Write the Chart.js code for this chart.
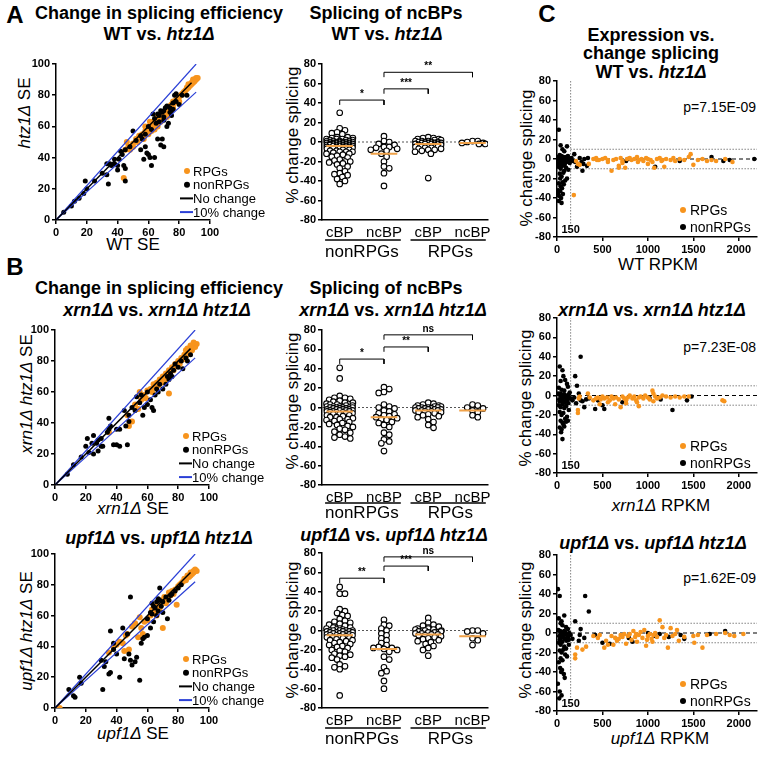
<!DOCTYPE html>
<html>
<head>
<meta charset="utf-8">
<script src="https://cdn.jsdelivr.net/npm/chart.js@4"></script>
<style>
  body { margin: 0; width: 766px; height: 759px; position: relative; background: #fff; overflow: hidden;
         font-family: "Liberation Sans", Arial, sans-serif; color: #000; }
  canvas { position: absolute; }
  .t { position: absolute; white-space: nowrap; transform: translate(-50%, -50%); line-height: 1; }
  .ttl { font-weight: bold; font-size: 18px; }
  .ax { font-size: 17px; }
  .yax { transform: translate(-50%, -50%) rotate(-90deg); }
  .let { font-weight: bold; font-size: 24px; }
  .pv { font-size: 14px; transform: translate(-100%, -50%); }
</style>
</head>
<body>
<!-- row A -->
<div class="t let" style="left:15px;top:15px">A</div>
<div class="t ttl" style="left:159px;top:13px">Change in splicing efficiency</div>
<div class="t ttl" style="left:159px;top:34px">WT vs. <i>htz1Δ</i></div>
<div class="t ax yax" style="left:24px;top:113px"><i>htz1Δ</i> SE</div>
<div class="t ax" style="left:133px;top:244px">WT SE</div>
<div class="t ttl" style="left:386px;top:13px">Splicing of ncBPs</div>
<div class="t ttl" style="left:387px;top:34px">WT vs. <i>htz1Δ</i></div>
<div class="t ax yax" style="left:292px;top:135px">% change splicing</div>
<div class="t let" style="left:547px;top:14px">C</div>
<div class="t ttl" style="left:651px;top:35px">Expression vs.</div>
<div class="t ttl" style="left:651px;top:53px">change splicing</div>
<div class="t ttl" style="left:651px;top:72px">WT vs. <i>htz1Δ</i></div>
<div class="t ax yax" style="left:526px;top:158px">% change splicing</div>
<div class="t ax" style="left:658px;top:264px">WT RPKM</div>
<div class="t pv" style="left:756px;top:107px">p=7.15E-09</div>
<!-- row B -->
<div class="t let" style="left:15px;top:267px">B</div>
<div class="t ttl" style="left:159px;top:288px">Change in splicing efficiency</div>
<div class="t ttl" style="left:157px;top:310px"><i>xrn1Δ</i> vs. <i>xrn1Δ htz1Δ</i></div>
<div class="t ax yax" style="left:26px;top:394px"><i>xrn1Δ htz1Δ</i> SE</div>
<div class="t ax" style="left:133px;top:508px"><i>xrn1Δ</i> SE</div>
<div class="t ttl" style="left:386px;top:288px">Splicing of ncBPs</div>
<div class="t ttl" style="left:393px;top:310px"><i>xrn1Δ</i> vs. <i>xrn1Δ htz1Δ</i></div>
<div class="t ax yax" style="left:292px;top:401px">% change splicing</div>
<div class="t ttl" style="left:652px;top:310px"><i>xrn1Δ</i> vs. <i>xrn1Δ htz1Δ</i></div>
<div class="t ax yax" style="left:525px;top:398px">% change splicing</div>
<div class="t ax" style="left:661px;top:505px"><i>xrn1Δ</i> RPKM</div>
<div class="t pv" style="left:756px;top:347px">p=7.23E-08</div>
<!-- row C -->
<div class="t ttl" style="left:159px;top:538px"><i>upf1Δ</i> vs. <i>upf1Δ htz1Δ</i></div>
<div class="t ax yax" style="left:26px;top:631px"><i>upf1Δ htz1Δ</i> SE</div>
<div class="t ax" style="left:133px;top:733px"><i>upf1Δ</i> SE</div>
<div class="t ttl" style="left:394px;top:535px"><i>upf1Δ</i> vs. <i>upf1Δ htz1Δ</i></div>
<div class="t ax yax" style="left:292px;top:630px">% change splicing</div>
<div class="t ttl" style="left:653px;top:543px"><i>upf1Δ</i> vs. <i>upf1Δ htz1Δ</i></div>
<div class="t ax yax" style="left:525px;top:630px">% change splicing</div>
<div class="t ax" style="left:660px;top:738px"><i>upf1Δ</i> RPKM</div>
<div class="t pv" style="left:756px;top:578px">p=1.62E-09</div>

<script>
// ---- data: SE scatter (x = control SE, y = htz1 SE) ----
const seRpgWT = [[44,27],[45,45],[47,47],[48,45],[50,49],[52,52],[53,50],[55,53],[56,55],[57,52],[58,57],[59,56],[60,59],[61,58],[62,62],[63,60],[63,63],[64,61],[65,64],[66,62],[66,66],[67,65],[68,63],[68,68],[69,66],[70,68],[71,70],[72,69],[72,72],[73,71],[74,73],[74,70],[75,74],[76,72],[76,76],[77,75],[78,77],[79,78],[80,79],[80,76],[81,80],[82,81],[83,82],[84,83],[85,84],[85,85],[86,85],[87,86],[88,87],[88,88],[89,88],[90,89],[90,90],[91,90],[91,91],[92,91],[60,55],[62,57],[64,58],[66,60],[54,54],[50,47],[47,46],[70,65],[72,66],[46,50],[58,60],[61,63],[86,87],[89,90]];
const seNonWT = [[10,9],[18,17],[19,25],[33,36],[33,29],[34,23],[36,35],[38,36],[40,32],[40,35],[41,39],[42,44],[43,42],[44,35],[45,25],[45,33],[45,45],[50,57],[55,45],[56,52],[57,39],[58,47],[59,43],[60,42],[61,40],[62,35],[63,68],[64,40],[66,52],[68,48],[69,52],[70,47],[70,64],[72,60],[73,62],[75,67],[76,71],[78,81],[80,74],[85,80],[65,62],[67,67],[68,70],[70,70],[72,73],[74,72],[62,58],[64,65],[66,68],[60,60],[58,55],[55,54],[52,51],[48,47],[70,66],[71,72],[74,69],[76,75],[77,80],[20,20],[25,25],[30,30],[5,5],[15,14],[12,12],[35,36],[38,39],[78,76],[82,80],[75,70],[69,69],[67,63]];
const seRpgXrn = [[35,34],[47,45],[48,38],[50,41],[52,52],[54,49],[55,60],[56,55],[57,57],[58,58],[59,56],[60,61],[62,62],[63,60],[64,65],[65,63],[66,66],[67,64],[68,68],[69,66],[70,70],[71,67],[72,72],[73,70],[74,59],[74,74],[75,73],[76,76],[77,74],[78,78],[79,77],[80,80],[81,78],[82,82],[83,81],[84,84],[85,83],[86,86],[87,85],[88,88],[89,87],[90,90],[91,89],[92,91],[85,87],[88,90],[86,88],[90,92]];
const seNonXrn = [[8,7],[12,13],[17,18],[21,30],[22,21],[25,32],[28,29],[27,27],[30,30],[28,22],[31,25],[35,43],[34,34],[36,38],[38,26],[40,26],[42,25],[40,36],[42,36],[46,38],[47,26],[48,41],[48,45],[52,48],[53,57],[56,58],[57,45],[58,50],[60,52],[62,55],[63,50],[64,48],[65,58],[66,62],[67,60],[68,65],[70,62],[72,65],[73,70],[74,68],[75,72],[76,70],[77,74],[78,78],[80,76],[82,80],[83,75],[85,82],[86,80],[88,84],[20,25],[45,48],[50,50],[55,53],[60,60],[35,36],[30,25],[25,20],[24,27]];
const seRpgUpf = [[3,0],[35,36],[38,40],[40,41],[42,43],[44,42],[45,37],[46,47],[47,48],[48,38],[50,53],[52,55],[54,46],[55,59],[56,52],[57,48],[58,56],[60,57],[62,60],[63,64],[64,62],[65,66],[66,60],[67,68],[68,65],[69,70],[70,52],[71,72],[72,68],[73,71],[74,75],[75,73],[76,76],[77,74],[78,77],[79,67],[80,79],[81,80],[82,81],[83,82],[84,84],[85,83],[86,86],[87,85],[88,88],[89,87],[90,89],[91,90],[88,86],[90,88],[92,89]];
const seNonUpf = [[9,12],[12,8],[13,7],[16,20],[17,16],[30,31],[31,12],[32,27],[33,30],[35,22],[36,23],[36,50],[38,42],[38,38],[40,35],[42,20],[44,52],[45,32],[47,48],[48,35],[49,31],[49,72],[50,28],[52,30],[53,33],[55,18],[56,42],[57,45],[58,46],[60,47],[60,58],[62,52],[62,62],[63,68],[64,56],[65,65],[66,60],[67,63],[68,78],[68,70],[69,66],[70,62],[70,69],[72,72],[73,58],[74,70],[75,73],[76,74],[78,76],[80,78],[82,80],[64,66],[66,69],[67,71],[63,61]];
const noChangeLine = [[0,0],[88,88]];
const upper10Line = [[0,0],[91,100]];
const lower10Line = [[0,0],[91,82]];
const seTicks = [0, 20, 40, 60, 80, 100];

// ---- data: % change splicing by branch point class ----
const bpCategories = ['cBP', 'ncBP', 'cBP', 'ncBP'];
const bpGroups = ['nonRPGs', 'RPGs'];
const bpWT = [
  [30,14,12,10,9,8,5,5,4,4,3,3,3,2,2,2,1,1,1,1,0,0,0,0,0,0,-1,-1,-1,-1,-1,-2,-2,-2,-2,-2,-3,-3,-3,-3,-3,-4,-4,-4,-4,-5,-5,-5,-5,-6,-6,-6,-7,-7,-7,-8,-8,-9,-9,-10,-10,-10,-11,-12,-12,-13,-14,-15,-16,-18,-19,-20,-20,-21,-22,-23,-25,-27,-30,-32,-33,-34,-36,-38,-40,-43],
  [6,1,0,-2,-3,-5,-5,-6,-7,-8,-9,-12,-15,-20,-25,-27,-32,-45],
  [5,4,4,3,3,2,2,1,1,1,0,0,0,0,-1,-1,-1,-1,-2,-2,-2,-2,-3,-3,-3,-4,-4,-5,-5,-6,-6,-7,-7,-8,-8,-9,-10,-12,-37],
  [1,0,-1,-2,-2,-1,1]
];
const bpXrn = [
  [41,30,12,10,10,9,8,7,6,5,5,4,3,3,2,2,1,1,1,0,0,0,0,0,-1,-1,-1,-2,-2,-2,-2,-3,-3,-3,-3,-4,-4,-4,-5,-5,-5,-6,-6,-7,-7,-8,-8,-9,-10,-10,-11,-12,-12,-13,-14,-15,-16,-17,-18,-19,-20,-22,-23,-25,-26,-28,-30,-31,-32],
  [21,19,16,15,3,1,0,-1,-3,-4,-6,-7,-8,-9,-10,-11,-12,-13,-15,-16,-18,-20,-26,-28,-33,-35,-37,-45],
  [5,4,3,2,2,1,1,0,0,0,0,-1,-1,-1,-2,-2,-2,-3,-3,-3,-4,-4,-5,-5,-6,-7,-8,-9,-10,-12,-15,-18,-21],
  [3,2,0,-1,-5,-8,-10,-3]
];
const bpUpf = [
  [45,38,38,22,20,18,16,15,12,10,9,8,7,6,5,4,3,3,2,2,1,1,0,0,0,0,0,-1,-1,-1,-2,-2,-2,-3,-3,-3,-4,-4,-4,-5,-5,-5,-6,-6,-7,-7,-8,-8,-9,-10,-10,-11,-12,-13,-14,-15,-16,-17,-18,-20,-21,-22,-24,-25,-26,-27,-28,-30,-35,-37,-38,-40,-67],
  [11,6,5,2,0,-3,-5,-8,-10,-13,-15,-17,-18,-18,-19,-20,-22,-27,-30,-38,-42,-44,-52,-60],
  [13,8,6,5,4,3,2,2,1,1,0,0,0,-1,-1,-2,-2,-3,-3,-4,-4,-5,-5,-6,-7,-8,-9,-10,-11,-12,-14,-16,-18,-20,-26],
  [0,0,-1,-3,-8,-10,-15]
];
const mediansWT = [-4, -12, -2, -1];
const mediansXrn = [-4, -10, -3, -3];
const mediansUpf = [-5, -19, -4, -6];
// [from category, to category, bar height, label]
const bracketsWT = [[0,1,43,'*'],[1,2,54.5,'***'],[1,3,71.5,'**']];
const bracketsXrn = [[0,1,50,'*'],[1,2,62.5,'**'],[1,3,75,'ns']];
const bracketsUpf = [[0,1,54,'**'],[1,2,66.5,'***'],[1,3,76,'ns']];
const pctTicks = [-80, -60, -40, -20, 0, 20, 40, 60, 80];

// ---- data: expression (RPKM) vs % change splicing ----
const exRpgWT = [[185,-37],[210,-2],[230,-5],[250,-6],[350,-5],[400,0],[430,1],[460,-1],[500,0],[530,1],[560,-1],[600,-12],[620,-1],[650,0],[680,-7],[700,1],[720,-2],[750,-9],[770,0],[800,1],[820,-1],[850,0],[880,2],[900,-1],[930,0],[950,-2],[980,1],[1000,0],[1030,-1],[1050,-3],[1070,-9],[1100,0],[1130,1],[1160,-1],[1180,-8],[1200,0],[1250,-1],[1280,1],[1300,-2],[1350,0],[1400,-1],[1450,2],[1470,5],[1500,-6],[1550,-1],[1600,0],[1650,-2],[1700,-1],[1750,-2],[1850,0],[1930,-3],[1000,-5],[720,-4],[680,-9],[440,-1],[560,-3],[890,-3],[1150,-2]];
const exNonWT = [[20,30],[40,14],[60,10],[80,8],[110,13],[30,4],[50,3],[70,2],[90,1],[120,3],[15,0],[35,-1],[55,-2],[75,-1],[95,0],[130,-2],[25,-3],[45,-5],[65,-4],[85,-6],[105,-3],[140,-4],[20,-8],[40,-10],[60,-7],[80,-12],[100,-9],[125,-11],[30,-15],[50,-18],[70,-14],[90,-22],[110,-20],[20,-25],[40,-28],[60,-24],[15,-32],[35,-33],[55,-30],[25,-38],[45,-40],[20,-43],[50,-45],[10,-35],[65,-36],[75,-26],[35,-20],[10,-5],[5,2],[145,-1],[160,1],[175,-2],[190,5],[200,-3],[220,-8],[250,1],[270,-3],[280,-12],[290,-5],[300,0],[330,-7],[340,1],[780,0],[760,-2],[1080,-8],[1350,-2],[1700,2],[1830,-2],[2170,0],[1900,-1],[40,1],[60,-1],[80,0],[100,2],[120,-1],[30,-2],[50,0],[70,-3],[90,-2],[110,1],[130,0]];
const exRpgXrn = [[230,-18],[230,-15],[240,-3],[250,-1],[340,2],[360,-2],[400,-5],[430,-3],[450,-2],[480,-4],[500,-1],[520,-3],[550,-2],[580,-5],[600,-1],[620,-3],[650,-2],[680,-4],[700,-12],[720,-1],[740,-3],[760,-8],[780,-2],[800,0],[830,-3],[850,-1],[870,-5],[900,-2],[920,-1],[950,-3],[970,0],[1000,-2],[1020,-4],[1050,5],[1060,2],[1080,-1],[1100,-3],[1130,-2],[1160,0],[1200,-1],[1250,-2],[1300,-1],[1350,-2],[1400,-1],[1450,-1],[1820,-5],[1840,-6],[560,-7],[640,-9],[880,-7],[1060,-6],[470,-9],[900,-11],[760,-5]];
const exNonXrn = [[30,30],[60,26],[70,20],[40,15],[90,16],[110,12],[200,20],[220,10],[260,40],[20,8],[50,6],[80,5],[120,9],[140,3],[15,2],[35,0],[55,-1],[75,1],[95,-2],[115,0],[135,-3],[25,-4],[45,-6],[65,-5],[85,-7],[105,-4],[125,-8],[20,-10],[40,-12],[60,-9],[80,-13],[100,-11],[130,-15],[30,-17],[50,-20],[70,-18],[90,-24],[110,-22],[40,-26],[60,-28],[80,-32],[100,-27],[30,-33],[50,-35],[70,-30],[120,-26],[60,-45],[45,-38],[150,-3],[170,-5],[190,-2],[210,-8],[240,2],[260,-5],[280,-6],[300,-12],[320,-4],[350,-3],[420,-14],[450,-5],[500,-10],[520,-14],[720,-7],[1020,-3],[1140,-4],[1270,-15],[1430,-5],[1480,-1],[40,2],[60,-2],[80,1],[100,-1],[120,-3],[30,-6],[50,-3],[70,-1],[90,0],[110,-6],[130,1]];
const exRpgUpf = [[200,-22],[200,-26],[220,-15],[280,-17],[320,-14],[400,-3],[450,-5],[470,-2],[520,-15],[540,-8],[560,-12],[600,-3],[640,-5],[660,-8],[680,-6],[700,-2],[720,-4],[740,-1],[760,-11],[780,-3],[800,-1],[820,-7],[840,2],[860,-4],[880,-9],[900,-2],[920,1],[940,-5],[960,3],[980,-13],[1000,-3],[1020,-1],[1040,-6],[1060,-2],[1080,0],[1100,-4],[1130,13],[1160,6],[1180,-5],[1200,-2],[1220,-15],[1250,5],[1270,-3],[1300,-1],[1320,3],[1340,-8],[1400,-4],[1500,-3],[1510,-10],[1550,-2],[1600,-15],[1650,-2],[1750,-1],[1850,0],[1900,-2],[1950,-3],[2050,-1],[620,-12],[870,-1],[990,-7],[1050,-9]];
const exNonUpf = [[10,45],[30,38],[20,15],[50,12],[80,18],[40,10],[60,8],[100,6],[120,4],[15,3],[35,2],[55,1],[75,0],[95,-1],[115,-2],[135,0],[25,-3],[45,-5],[65,-4],[85,-6],[105,-8],[125,-3],[20,-10],[40,-12],[60,-9],[80,-14],[100,-16],[130,-12],[30,-18],[50,-20],[70,-17],[90,-22],[110,-24],[40,-26],[60,-28],[20,-30],[35,-36],[55,-38],[75,-42],[85,-46],[45,-40],[10,-52],[30,-60],[50,-64],[25,-67],[150,-2],[170,-6],[200,12],[240,-8],[250,-2],[260,4],[300,-5],[310,38],[350,22],[420,-2],[500,-10],[580,-11],[790,-5],[830,-9],[1000,0],[1080,-3],[1130,-1],[1230,-4],[1360,-2],[1400,-6],[1680,-1],[1850,2],[40,0],[60,-2],[80,2],[100,-1],[120,-4],[30,-7],[50,-3],[70,-1],[90,1],[110,-5],[130,-7]];
const rpkmTicks = [0, 500, 1000, 1500, 2000];
const rpkmCutoff = 150;

// ---- drawing ----
const FONT = '"Liberation Sans", Arial, sans-serif';
const ORANGE = '#f7941d';
const BLUE = '#2a3fd6';
const MEDIAN = '#f0a24a';

const xy = arr => arr.map(([x, y]) => ({ x, y }));

function axis(pos, min, max, ticks, size, fontSize, bold) {
  return {
    type: 'linear', position: pos, min, max,
    afterBuildTicks: s => { s.ticks = ticks.map(v => ({ value: v })); },
    afterFit: s => { if (pos === 'left') s.width = size; else s.height = size; },
    ticks: { color: '#000', autoSkip: false, maxRotation: 0, padding: 2,
             font: { family: FONT, size: fontSize || 11, weight: bold === false ? 'normal' : 'bold' },
             callback: v => String(v) },
    grid: { drawOnChartArea: false, color: '#000', lineWidth: 1.5, tickLength: 4 },
    border: { color: '#000', width: 1.5 }
  };
}

const extras = {
  id: 'extras',
  afterDraw(chart, args, o) {
    const ctx = chart.ctx, a = chart.chartArea, xs = chart.scales.x, ys = chart.scales.y;
    ctx.save();
    ctx.fillStyle = '#000';
    if (o.brackets) {
      ctx.font = 'bold 10px ' + FONT;
      ctx.textAlign = 'center'; ctx.textBaseline = 'bottom';
      o.brackets.forEach(([i0, i1, y, lab]) => {
        ctx.fillText(lab, (xs.getPixelForValue(i0) + xs.getPixelForValue(i1)) / 2, ys.getPixelForValue(y) - 1);
      });
    }
    if (o.groups) {
      const g = o.groups;
      ctx.strokeStyle = '#000'; ctx.lineWidth = 1.5;
      ctx.font = '17px ' + FONT; ctx.textAlign = 'center'; ctx.textBaseline = 'middle';
      [[-0.33, 1.38, 0.5, bpGroups[0]], [1.6, 3.3, 2.5, bpGroups[1]]].forEach(([s, e, c, lab]) => {
        ctx.beginPath();
        ctx.moveTo(xs.getPixelForValue(s), a.bottom + g.line);
        ctx.lineTo(xs.getPixelForValue(e), a.bottom + g.line);
        ctx.stroke();
        ctx.fillText(lab, xs.getPixelForValue(c), a.bottom + g.text);
      });
    }
    if (o.legend) {
      const L = o.legend;
      ctx.font = L.size + 'px ' + FONT; ctx.textAlign = 'left'; ctx.textBaseline = 'middle';
      L.items.forEach((it, i) => {
        const y = a.bottom - L.bottom + i * L.step;
        if (it.line) {
          ctx.strokeStyle = it.color; ctx.lineWidth = 2;
          ctx.beginPath(); ctx.moveTo(a.right - L.dot - 7, y); ctx.lineTo(a.right - L.text, y); ctx.stroke();
        } else {
          ctx.fillStyle = it.color;
          ctx.beginPath(); ctx.arc(a.right - L.dot, y, 3, 0, Math.PI * 2); ctx.fill();
        }
        ctx.fillStyle = '#000';
        ctx.fillText(it.label, a.right - L.text, y + 1);
      });
    }
    if (o.cutoffLabel) {
      ctx.font = 'bold 11px ' + FONT; ctx.textAlign = 'center'; ctx.textBaseline = 'middle';
      ctx.fillText(String(rpkmCutoff), xs.getPixelForValue(rpkmCutoff), a.bottom - 7);
    }
    ctx.restore();
  }
};
Chart.register(extras);

function place(left, top, w, h) {
  const c = document.createElement('canvas');
  c.width = w; c.height = h;
  c.style.left = left + 'px'; c.style.top = top + 'px';
  c.style.width = w + 'px'; c.style.height = h + 'px';
  document.body.appendChild(c);
  return c;
}

const baseOpts = { responsive: false, animation: false, events: [] };

function seChart(box, rpg, non) {
  new Chart(place(box.x, box.y, box.w, box.h), {
    type: 'scatter',
    data: { datasets: [
      { data: xy(noChangeLine), showLine: true, borderColor: '#000', borderWidth: 1.5, pointRadius: 0 },
      { data: xy(upper10Line), showLine: true, borderColor: BLUE, borderWidth: 1.2, pointRadius: 0 },
      { data: xy(lower10Line), showLine: true, borderColor: BLUE, borderWidth: 1.2, pointRadius: 0 },
      { data: xy(non), backgroundColor: '#000', pointRadius: 2.5, borderWidth: 0 },
      { data: xy(rpg), backgroundColor: ORANGE, pointRadius: 3, borderWidth: 0 }
    ]},
    options: { ...baseOpts,
      layout: { padding: { left: 0, top: 10, right: box.w - 184, bottom: 0 } },
      scales: { x: axis('bottom', 0, 100, seTicks, 22), y: axis('left', 0, 100, seTicks, 30) },
      plugins: { legend: { display: false }, tooltip: { enabled: false },
        extras: { legend: { size: 13, bottom: 49, step: 13.7, dot: 23, text: 17, items: [
          { label: 'RPGs', color: ORANGE }, { label: 'nonRPGs', color: '#000' },
          { label: 'No change', color: '#000', line: true }, { label: '10% change', color: BLUE, line: true } ] } } }
    }
  });
}

// spread values of one column sideways; circles may overlap like in a dense dot plot
function swarm(values, col, xPx, yPx, r) {
  const placed = [], out = [];
  const maxOff = 14, minDist = 1.25 * r;
  values.slice().sort((p, q) => q - p).forEach((v, n) => {
    let off = null;
    for (let k = 0; k < 40; k++) {
      const o = (k % 2 ? 1 : -1) * Math.ceil(k / 2) * r * 0.8;
      if (Math.abs(o) > maxOff) break;
      if (placed.every(p => Math.hypot(p.o - o, (p.v - v) * yPx) >= minDist)) { off = o; break; }
    }
    if (off === null) off = (((n * 7) % 9) - 4) * 3.2;
    placed.push({ o: off, v });
    out.push({ x: col + off / xPx, y: v });
  });
  return out;
}

function bpChart(box, groups, medians, brackets, grp) {
  const xMin = -0.4, xMax = 3.35;
  const xPx = 166 / (xMax - xMin), yPx = 155 / 160;
  const pts = groups.flatMap((vals, i) => swarm(vals, i, xPx, yPx, 3.3));
  const medPts = medians.flatMap((m, i) => [{ x: i - 0.3, y: m }, { x: i + 0.3, y: m }, { x: null, y: null }]);
  const brPts = brackets.flatMap(([i0, i1, y]) => [
    { x: i0, y: y - 5 }, { x: i0, y }, { x: i1, y }, { x: i1, y: y - 5 }, { x: null, y: null }]);
  const xAxis = axis('bottom', xMin, xMax, [0, 1, 2, 3], 45, 15, false);
  xAxis.ticks.callback = v => bpCategories[v];
  xAxis.ticks.padding = 4;
  xAxis.grid.drawTicks = false;
  new Chart(place(box.x, box.y, box.w, box.h), {
    type: 'scatter',
    data: { datasets: [
      { data: medPts, showLine: true, borderColor: MEDIAN, borderWidth: 2, pointRadius: 0, spanGaps: false },
      { data: brPts, showLine: true, borderColor: '#000', borderWidth: 1, pointRadius: 0, spanGaps: false },
      { data: pts, backgroundColor: '#fff', borderColor: '#000', borderWidth: 1.1, pointRadius: 2.8 },
      { data: [{ x: xMin, y: 0 }, { x: xMax, y: 0 }], showLine: true, borderColor: '#555',
        borderWidth: 1, borderDash: [2, 2], pointRadius: 0 }
    ]},
    options: { ...baseOpts,
      layout: { padding: { left: 0, top: 10, right: 10, bottom: 0 } },
      scales: { x: xAxis, y: axis('left', -80, 80, pctTicks, 30) },
      plugins: { legend: { display: false }, tooltip: { enabled: false },
        extras: { brackets, groups: grp } }
    }
  });
}

function exChart(box, rpg, non) {
  const xMax = 2200;
  new Chart(place(box.x, box.y, box.w, box.h), {
    type: 'scatter',
    data: { datasets: [
      { data: xy(rpg), backgroundColor: ORANGE, pointRadius: 2.3, borderWidth: 0 },
      { data: xy(non), backgroundColor: '#000', pointRadius: 2.3, borderWidth: 0 },
      { data: [{ x: 0, y: 0 }, { x: xMax, y: 0 }], showLine: true, borderColor: '#000', borderWidth: 1,
        borderDash: [4, 3], pointRadius: 0 },
      { data: [{ x: rpkmCutoff, y: 10 }, { x: xMax, y: 10 }], showLine: true, borderColor: '#444', borderWidth: 1,
        borderDash: [1, 2], pointRadius: 0 },
      { data: [{ x: rpkmCutoff, y: -10 }, { x: xMax, y: -10 }], showLine: true, borderColor: '#444', borderWidth: 1,
        borderDash: [1, 2], pointRadius: 0 },
      { data: [{ x: rpkmCutoff, y: -66 }, { x: rpkmCutoff, y: 80 }], showLine: true, borderColor: '#444', borderWidth: 1,
        borderDash: [1, 2], pointRadius: 0 }
    ]},
    options: { ...baseOpts,
      layout: { padding: { left: 0, top: 10, right: 6, bottom: 0 } },
      scales: { x: axis('bottom', 0, xMax, rpkmTicks, 22), y: axis('left', -80, 80, pctTicks, 30) },
      plugins: { legend: { display: false }, tooltip: { enabled: false },
        extras: { cutoffLabel: true, legend: { size: 14, bottom: 27, step: 17, dot: 74, text: 67, items: [
          { label: 'RPGs', color: ORANGE }, { label: 'nonRPGs', color: '#000' } ] } } }
    }
  });
}

// row A
seChart({ x: 26, y: 54, w: 250, h: 188 }, seRpgWT, seNonWT);
bpChart({ x: 292, y: 54, w: 206, h: 211 }, bpWT, mediansWT, bracketsWT, { line: 20, text: 32 });
exChart({ x: 527, y: 71, w: 236, h: 188 }, exRpgWT, exNonWT);
// row B
seChart({ x: 25, y: 320, w: 250, h: 187 }, seRpgXrn, seNonXrn);
bpChart({ x: 292, y: 320, w: 206, h: 210 }, bpXrn, mediansXrn, bracketsXrn, { line: 18, text: 28 });
exChart({ x: 527, y: 308, w: 236, h: 187 }, exRpgXrn, exNonXrn);
// row C
seChart({ x: 25, y: 544, w: 250, h: 186 }, seRpgUpf, seNonUpf);
bpChart({ x: 292, y: 543, w: 206, h: 210 }, bpUpf, mediansUpf, bracketsUpf, { line: 20, text: 31 });
exChart({ x: 527, y: 545, w: 236, h: 188 }, exRpgUpf, exNonUpf);
</script>
</body>
</html>
